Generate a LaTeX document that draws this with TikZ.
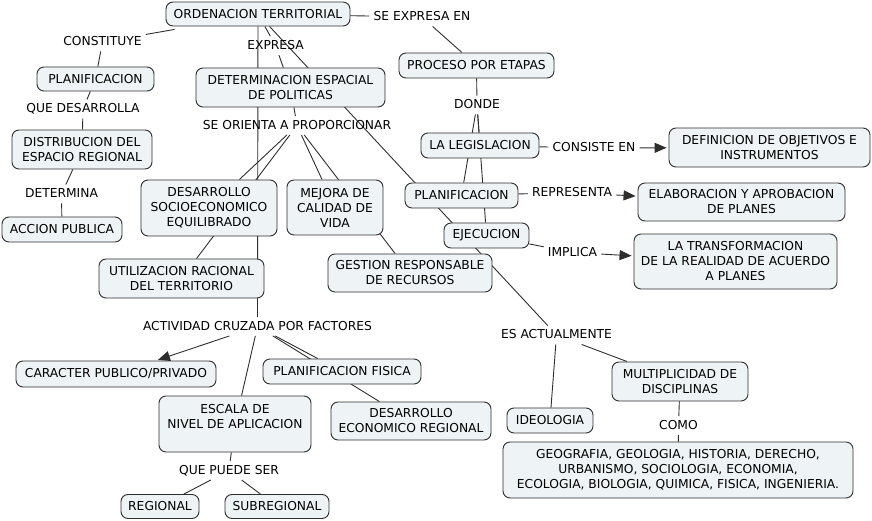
\documentclass[tikz,border=0pt]{standalone}
\usepackage{fontspec}
\setmainfont{DejaVu Sans}
\usetikzlibrary{arrows.meta,backgrounds}

\definecolor{cmapfill}{HTML}{EEF3F6}
\definecolor{cmapline}{HTML}{2E2E2E}

\tikzset{
  cmapfont/.style={font=\fontsize{12.3}{15}\selectfont},
  concept/.style={cmapfont, draw=cmapline, fill=cmapfill, line width=0.9pt,
    rounded corners=7pt, align=center, inner sep=2pt},
  linkword/.style={cmapfont, inner xsep=4pt, inner ysep=2pt,
    text height=11pt, text depth=3.5pt},
  conn/.style={draw=cmapline, line width=0.9pt},
  toarrow/.style={conn, -{Triangle[length=12pt,width=10pt]}, shorten >=2pt},
}

\begin{document}
\begin{tikzpicture}[x=1pt,y=-1pt]
            \useasboundingbox (0,0) rectangle (872,521);

            % concepts
            \node[concept, minimum width=184, minimum height=24] (ot) at (258,14) {ORDENACION TERRITORIAL};
            \node[concept, minimum width=117, minimum height=24] (planL) at (95.5,79) {PLANIFICACION};
            \node[concept, minimum width=189, minimum height=39] (det) at (290.5,87.5) {DETERMINACION ESPACIAL\\DE POLITICAS};
            \node[concept, minimum width=155, minimum height=25] (proc) at (476.5,65.5) {PROCESO POR ETAPAS};
            \node[concept, minimum width=140, minimum height=39] (dist) at (82,149.5) {DISTRIBUCION DEL\\ESPACIO REGIONAL};
            \node[concept, minimum width=118, minimum height=25] (leg) at (480,145.5) {LA LEGISLACION};
            \node[concept, minimum width=201, minimum height=39] (def) at (769.5,147.5) {DEFINICION DE OBJETIVOS E\\INSTRUMENTOS};
            \node[concept, minimum width=136, minimum height=56] (desSoc) at (209,208) {DESARROLLO\\SOCIOECONOMICO\\EQUILIBRADO};
            \node[concept, minimum width=96, minimum height=55] (mejora) at (335,207.5) {MEJORA DE\\CALIDAD DE\\VIDA};
            \node[concept, minimum width=113, minimum height=25] (planR) at (461.5,195.5) {PLANIFICACION};
            \node[concept, minimum width=207, minimum height=38] (elab) at (741.5,202) {ELABORACION Y APROBACION\\DE PLANES};
            \node[concept, minimum width=120, minimum height=25] (accion) at (62,229.5) {ACCION PUBLICA};
            \node[concept, minimum width=85, minimum height=25] (ejec) at (486.5,235.5) {EJECUCION};
            \node[concept, minimum width=203, minimum height=55] (transf) at (735.5,261.5) {LA TRANSFORMACION\\DE LA REALIDAD DE ACUERDO\\A PLANES};
            \node[concept, minimum width=165, minimum height=39] (util) at (181.5,278.5) {UTILIZACION RACIONAL\\DEL TERRITORIO};
            \node[concept, minimum width=164, minimum height=38] (gest) at (410,273) {GESTION RESPONSABLE\\DE RECURSOS};
            \node[concept, minimum width=200, minimum height=26] (caract) at (116,374) {CARACTER PUBLICO/PRIVADO};
            \node[concept, minimum width=158, minimum height=25] (planF) at (342,371.5) {PLANIFICACION FISICA};
            \node[concept, minimum width=152, minimum height=56] (escala) at (235,424) {ESCALA DE\\NIVEL DE APLICACION\\~};
            \node[concept, minimum width=160, minimum height=38] (desEco) at (411,421) {DESARROLLO\\ECONOMICO REGIONAL};
            \node[concept, minimum width=136, minimum height=39] (multi) at (680,381.5) {MULTIPLICIDAD DE\\DISCIPLINAS};
            \node[concept, minimum width=86, minimum height=25] (ideol) at (550,420.5) {IDEOLOGIA};
            \node[concept, minimum width=350, minimum height=56] (geo) at (678,470) {GEOGRAFIA, GEOLOGIA, HISTORIA, DERECHO,\\URBANISMO, SOCIOLOGIA, ECONOMIA,\\ECOLOGIA, BIOLOGIA, QUIMICA, FISICA, INGENIERIA.};
            \node[concept, minimum width=78, minimum height=24] (regional) at (160,506.5) {REGIONAL};
            \node[concept, minimum width=104, minimum height=24] (subreg) at (277,506.5) {SUBREGIONAL};

            % linking phrases
            \node[linkword] (constituye) at (102.5,42) {CONSTITUYE};
            \node[linkword] (expresa) at (275.5,45.5) {EXPRESA};
            \node[linkword] (seExpresa) at (422,17) {SE EXPRESA EN};
            \node[linkword] (queDes) at (83,109) {QUE DESARROLLA};
            \node[linkword] (donde) at (477,105) {DONDE};
            \node[linkword] (seOrienta) at (297,125.5) {SE ORIENTA A PROPORCIONAR};
            \node[linkword] (determina) at (61.5,194) {DETERMINA};
            \node[linkword] (consiste) at (594,148) {CONSISTE EN};
            \node[linkword] (representa) at (572,192.5) {REPRESENTA};
            \node[linkword] (implica) at (572.5,252.5) {IMPLICA};
            \node[linkword] (actividad) at (257.5,326.5) {ACTIVIDAD CRUZADA POR FACTORES};
            \node[linkword] (esAct) at (556.5,335) {ES ACTUALMENTE};
            \node[linkword] (como) at (678.5,425.5) {COMO};
            \node[linkword] (quePuede) at (229,470.5) {QUE PUEDE SER};

            % connectors, behind the concepts
            \begin{pgfonlayer}{background}
            \draw[conn] ([shift={(9,3)}]ot.south west) -- (constituye);
            \draw[conn] (constituye) -- (planL);
            \draw[conn] (planL) -- (queDes);
            \draw[conn] (queDes) -- (dist);
            \draw[conn] (dist) -- (determina);
            \draw[conn] (determina) -- (accion);
            \draw[conn] (ot) -- (expresa);
            \draw[conn] (expresa) -- (det);
            \draw[conn] (ot) -- (actividad);
            \draw[conn] (ot) -- (esAct);
            \draw[conn] (ot) -- (seExpresa);
            \draw[conn] (seExpresa) -- (proc);
            \draw[conn] (det) -- (seOrienta);
            \draw[conn] (seOrienta) -- (desSoc);
            \draw[conn] (seOrienta) -- (util);
            \draw[conn] (seOrienta) -- (mejora);
            \draw[conn] (seOrienta) -- (gest);
            \draw[conn] (proc) -- (donde);
            \draw[conn] (donde) -- (leg);
            \draw[conn] (donde) -- (planR);
            \draw[conn] (donde) -- (ejec);
            \draw[conn] (leg) -- (consiste);
            \draw[toarrow] (consiste) -- (def);
            \draw[conn] (planR) -- (representa);
            \draw[toarrow] (representa) -- (elab);
            \draw[conn] (ejec) -- (implica);
            \draw[toarrow] (implica) -- (transf);
            \draw[toarrow] (actividad) -- (caract);
            \draw[conn] (actividad) -- (escala);
            \draw[conn] (actividad) -- (planF);
            \draw[conn] (actividad) -- (desEco);
            \draw[conn] (escala) -- (quePuede);
            \draw[conn] (quePuede) -- (regional);
            \draw[conn] (quePuede) -- (subreg);
            \draw[conn] (esAct) -- (ideol);
            \draw[conn] (esAct) -- (multi);
            \draw[conn] (multi) -- (como);
            \draw[conn] (como) -- (geo);
            \end{pgfonlayer}
        \end{tikzpicture}
\end{document}
